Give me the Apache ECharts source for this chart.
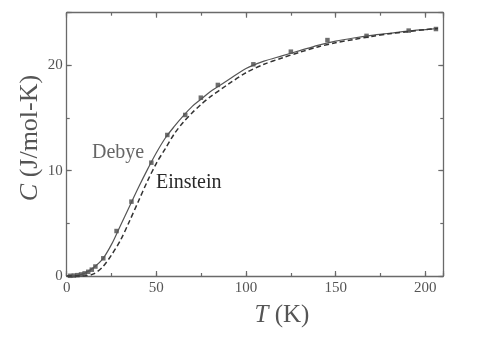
<!DOCTYPE html>
<html><head><meta charset="utf-8">
<script src="https://cdn.jsdelivr.net/npm/echarts@6/dist/echarts.min.js"></script>
<style>html,body{margin:0;padding:0;background:#fff}#c{width:486px;height:343px}</style>
</head><body><div id="c"></div>
<script>
// Model curves
var curveT = [0,5,10,15,20,25,30,35,40,45,50,55,60,65,70,75,80,90,100,110,120,130,140,150,160,170,180,190,200,207];
var debyeC = [0,0.04,0.25,0.8,1.6,3.0,4.8,6.6,8.4,10.1,11.7,13.1,14.2,15.2,16.1,16.8,17.5,18.6,19.7,20.4,20.9,21.4,21.9,22.3,22.6,22.85,23.05,23.25,23.4,23.5];
var einsteinC = [0,0,0.01,0.2,0.85,2.0,3.4,5.2,7.1,9.0,10.7,12.1,13.5,14.6,15.5,16.3,17.0,18.2,19.3,20.1,20.7,21.25,21.75,22.15,22.45,22.75,23.0,23.2,23.4,23.5];
// Measured points
var dataT = [2,4,6,8,10,12,14,16,20.4,27.8,36.1,47.2,56.1,66.1,74.8,84.3,104.1,125,145.4,167.2,190.7,205.9];
var dataC = [0.02,0.04,0.08,0.15,0.25,0.4,0.6,0.9,1.68,4.27,7.06,10.76,13.39,15.29,16.93,18.14,20.1,21.3,22.4,22.8,23.3,23.45];
var xTicks = [0,50,100,150,200];
var yTicks = [0,10,20];

function pairs(a,b){return a.map(function(v,i){return [v,b[i]];});}
var serif = 'Liberation Serif';
var frame = '#6a6a6a';
function xa(pos, interval, len, labels, showLine){
  return {type:'value', position:pos, min:0, max:210, interval:interval,
    axisLine:{show:showLine, onZero:false, lineStyle:{color:frame, width:1.3}},
    axisTick:{show:true, inside:true, length:len, lineStyle:{color:frame, width:1.2}},
    axisLabel:{show:labels, margin:5, fontFamily:serif, fontSize:15, color:'#555',
      formatter:function(v){return xTicks.indexOf(v)>=0 ? String(v) : '';}},
    splitLine:{show:false}};
}
function ya(pos, interval, len, labels, showLine){
  return {type:'value', position:pos, min:0, max:25, interval:interval,
    axisLine:{show:showLine, onZero:false, lineStyle:{color:frame, width:1.3}},
    axisTick:{show:true, inside:true, length:len, lineStyle:{color:frame, width:1.2}},
    axisLabel:{show:labels, margin:4, fontFamily:serif, fontSize:15, color:'#555',
      formatter:function(v){return yTicks.indexOf(v)>=0 ? String(v) : '';}},
    splitLine:{show:false}};
}
var chart = echarts.init(document.getElementById('c'), null, {renderer:'canvas'});
chart.setOption({
  animation:false,
  backgroundColor:'#fff',
  grid:{left:66.7, right:42.7, top:12.7, bottom:67, containLabel:false},
  xAxis:[xa('bottom',50,5,true,true), xa('bottom',25,3,false,false), xa('top',50,5,false,true), xa('top',25,3,false,false)],
  yAxis:[ya('left',10,5,true,true), ya('left',5,3,false,false), ya('right',10,5,false,true), ya('right',5,3,false,false)],
  series:[
    {type:'line', name:'Debye', data:pairs(curveT,debyeC), smooth:0.3, showSymbol:false,
      lineStyle:{color:'#555', width:1.2}},
    {type:'line', name:'Einstein', data:pairs(curveT,einsteinC), smooth:0.3, showSymbol:false,
      lineStyle:{color:'#333', width:1.5, type:[5,3]}},
    {type:'scatter', name:'data', data:pairs(dataT,dataC), symbol:'rect', symbolSize:4.5,
      itemStyle:{color:'#4a4a4a'}}
  ],
  graphic:[
    {type:'text', x:92, y:153, style:{text:'Debye', font:'20px "Liberation Serif"', fill:'#666', verticalAlign:'middle'}},
    {type:'text', x:156, y:183, style:{text:'Einstein', font:'20px "Liberation Serif"', fill:'#2a2a2a', verticalAlign:'middle'}},
    {type:'text', x:282, y:315, style:{text:'{i|T} (K)', font:'25px "Liberation Serif"', fill:'#555', align:'center', verticalAlign:'middle',
      rich:{i:{fontStyle:'italic', fontFamily:serif, fontSize:25, fill:'#555'}}}},
    {type:'text', x:30, y:138, rotation:Math.PI/2, style:{text:'{i|C} (J/mol-K)', font:'26px "Liberation Serif"', fill:'#555', align:'center', verticalAlign:'middle',
      rich:{i:{fontStyle:'italic', fontFamily:serif, fontSize:26, fill:'#555'}}}}
  ]
});
</script></body></html>
